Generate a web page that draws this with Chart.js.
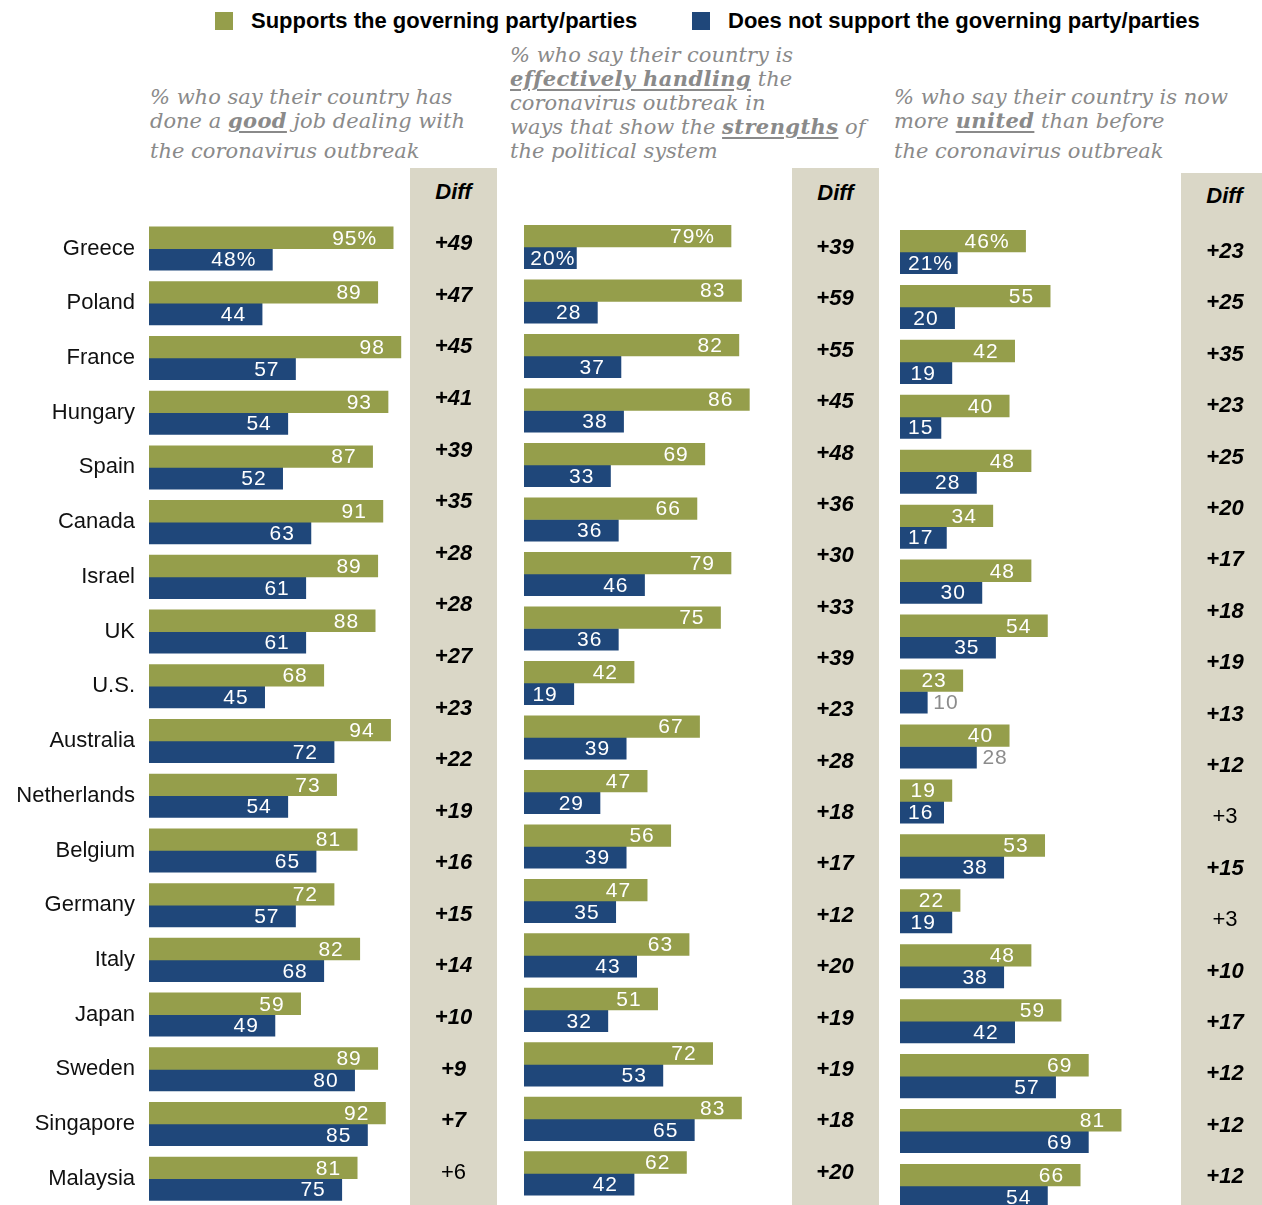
<!DOCTYPE html>
<html><head><meta charset="utf-8">
<script src="https://cdn.jsdelivr.net/npm/chart.js@4.4.0/dist/chart.umd.min.js"></script>
<style>
html,body{margin:0;padding:0;background:#fff;overflow:hidden;}
#page{position:relative;width:1262px;height:1205px;overflow:hidden;}
.sub{position:absolute;font-family:'DejaVu Serif',Georgia,serif;font-style:italic;color:#8a8a8a;font-size:21px;white-space:nowrap;line-height:24px;}
.sub b{text-decoration:underline;text-decoration-thickness:2px;text-underline-offset:3px;letter-spacing:0.4px;}
.leg{position:absolute;font-family:'Liberation Sans',Arial,sans-serif;font-weight:bold;font-size:22px;top:8px;line-height:26px;white-space:nowrap;color:#000;}
.sw{position:absolute;width:18px;height:18px;top:12px;}
.beige{position:absolute;background:#DAD7C7;bottom:0;}
.diffh{position:absolute;left:0;right:0;text-align:center;font-family:'Liberation Sans',Arial,sans-serif;font-weight:bold;font-style:italic;font-size:22px;line-height:26px;color:#000;}
.wrap{position:absolute;}
</style></head>
<body><div id="page">
<div class="sw" style="left:215px;background:#959E4B"></div>
<div class="leg" style="left:251px">Supports the governing party/parties</div>
<div class="sw" style="left:692px;background:#1F477A"></div>
<div class="leg" style="left:728px">Does not support the governing party/parties</div>

<div class="sub" style="left:150px;top:85px">% who say their country has</div>
<div class="sub" style="left:150px;top:109px">done a <b>good</b> job dealing with</div>
<div class="sub" style="left:150px;top:139px">the coronavirus outbreak</div>

<div class="sub" style="left:510px;top:43px">% who say their country is</div>
<div class="sub" style="left:510px;top:67px"><b>effectively handling</b> the</div>
<div class="sub" style="left:510px;top:91px">coronavirus outbreak in</div>
<div class="sub" style="left:510px;top:115px">ways that show the <b>strengths</b> of</div>
<div class="sub" style="left:510px;top:139px">the political system</div>

<div class="sub" style="left:894px;top:85px">% who say their country is now</div>
<div class="sub" style="left:894px;top:109px">more <b>united</b> than before</div>
<div class="sub" style="left:894px;top:139px">the coronavirus outbreak</div>

<div class="beige" style="left:410px;width:87px;top:168px"><div class="diffh" style="top:11px">Diff</div></div>
<div class="beige" style="left:792px;width:87px;top:168px"><div class="diffh" style="top:12px">Diff</div></div>
<div class="beige" style="left:1181px;width:81px;top:173px"><div class="diffh" style="top:10px;left:6px">Diff</div></div>

<div class="wrap" style="left:0;top:168px;width:500px;height:1040px"><canvas id="c1"></canvas></div>
<div class="wrap" style="left:505px;top:168px;width:380px;height:1040px"><canvas id="c2"></canvas></div>
<div class="wrap" style="left:885px;top:168px;width:377px;height:1046px"><canvas id="c3"></canvas></div>
</div>
<script>
const countries = ['Greece','Poland','France','Hungary','Spain','Canada','Israel','UK','U.S.','Australia','Netherlands','Belgium','Germany','Italy','Japan','Sweden','Singapore','Malaysia'];

const goodSupp = [95,89,98,93,87,91,89,88,68,94,73,81,72,82,59,89,92,81];
const goodNot  = [48,44,57,54,52,63,61,61,45,72,54,65,57,68,49,80,85,75];
const goodDiff = [49,47,45,41,39,35,28,28,27,23,22,19,16,15,14,10,9,7,6];
const goodDiffPlain = [18];

const strengthSupp = [79,83,82,86,69,66,79,75,42,67,47,56,47,63,51,72,83,62];
const strengthNot  = [20,28,37,38,33,36,46,36,19,39,29,39,35,43,32,53,65,42];
const strengthDiff = [39,59,55,45,48,36,30,33,39,23,28,18,17,12,20,19,19,18,20];
const strengthDiffPlain = [];

const unitedSupp = [46,55,42,40,48,34,48,54,23,40,19,53,22,48,59,69,81,66];
const unitedNot  = [21,20,19,15,28,17,30,35,10,28,16,38,19,38,42,57,69,54];
const unitedDiff = [23,25,35,23,25,20,17,18,19,13,12,3,15,3,10,17,12,12,12];
const unitedDiffPlain = [11,13];
const unitedNotOutside = [8,9];

const GREEN = '#959E4B', BLUE = '#1F477A';
const SANS = '"Liberation Sans", Arial, sans-serif';

const panelLabels = {
  id: 'panelLabels',
  afterDatasetsDraw(chart, args, opts) {
    const ctx = chart.ctx;
    ctx.save();
    ctx.font = '21px ' + SANS;
    ctx.textBaseline = 'middle';
    try { ctx.letterSpacing = '1px'; } catch(e) {}
    chart.data.datasets.forEach((ds, di) => {
      const meta = chart.getDatasetMeta(di);
      meta.data.forEach((el, i) => {
        const txt = String(ds.data[i]) + (i === 0 ? '%' : '');
        const w = ctx.measureText(txt).width;
        const outside = di === 1 && opts.outside.includes(i);
        if (outside) {
          ctx.fillStyle = '#8c8c8c'; ctx.textAlign = 'left';
          ctx.fillText(txt, el.x + 6, el.y + 1);
        } else {
          ctx.fillStyle = '#fff'; ctx.textAlign = 'right';
          let xr = Math.max(el.x - 16, el.base + 8 + w);
          xr = Math.min(xr, el.x - 1);
          ctx.fillText(txt, xr, el.y + 1);
        }
      });
    });
    try { ctx.letterSpacing = '0px'; } catch(e) {}
    const yd = chart.scales.yd;
    const cx = chart.chartArea.right - opts.diffOffset;
    ctx.fillStyle = '#000'; ctx.textAlign = 'center';
    opts.diffs.forEach((d, i) => {
      const plain = opts.plain.includes(i);
      ctx.font = (plain ? '' : 'italic bold ') + '22px ' + SANS;
      ctx.fillText('+' + d, cx, yd.getPixelForValue(i) + 1);
    });
    ctx.restore();
  }
};

function makeChart(id, supp, not, diffs, plain, outside, cfg) {
  return new Chart(document.getElementById(id), {
    type: 'bar',
    data: {
      labels: countries,
      datasets: [
        { label: 'Supports the governing party/parties', data: supp, backgroundColor: GREEN, barThickness: 21.7, borderWidth: 0 },
        { label: 'Does not support the governing party/parties', data: not, backgroundColor: BLUE, barThickness: 21.7, borderWidth: 0 }
      ]
    },
    options: {
      indexAxis: 'y',
      responsive: true,
      maintainAspectRatio: false,
      animation: false,
      events: [],
      layout: { padding: cfg.padding },
      plugins: {
        legend: { display: false },
        tooltip: { enabled: false },
        panelLabels: { diffs, plain, outside, diffOffset: cfg.diffOffset }
      },
      scales: {
        x: { display: false, min: 0, max: cfg.xMax },
        y: {
          display: cfg.showY,
          grid: { display: false, drawTicks: false },
          border: { display: false },
          ticks: { color: '#111', font: { family: SANS, size: 22 }, padding: 14 },
          afterFit: (s) => { if (cfg.showY) { s.width = cfg.yWidth; s.paddingTop = 0; s.paddingBottom = 0; } }
        },
        yd: {
          type: 'linear', display: false, reverse: true, bounds: 'data', offset: false,
          grid: { offset: false },
          min: cfg.dMin, max: cfg.dMax,
          afterDataLimits: (s) => { s.min = cfg.dMin; s.max = cfg.dMax; }
        }
      }
    },
    plugins: [panelLabels]
  });
}

makeChart('c1', goodSupp, goodNot, goodDiff, goodDiffPlain, [], {
  padding: { top: 53.2, right: 3, bottom: 1.9, left: 0 }, xMax: 135.4, showY: true, yWidth: 149,
  diffOffset: 43.5, dMin: -0.428, dMax: 18.667
});
makeChart('c2', strengthSupp, strengthNot, strengthDiff, strengthDiffPlain, [], {
  padding: { top: 51.8, right: 7, bottom: 7.4, left: 19 }, xMax: 135.1, showY: false,
  diffOffset: 43, dMin: -0.529, dMax: 18.564
});
makeChart('c3', unitedSupp, unitedNot, unitedDiff, unitedDiffPlain, unitedNotOutside, {
  padding: { top: 56.5, right: 0, bottom: 0.5, left: 15 }, xMax: 132.6, showY: false,
  diffOffset: 37, dMin: -0.516, dMax: 18.729
});
</script>
</body></html>
